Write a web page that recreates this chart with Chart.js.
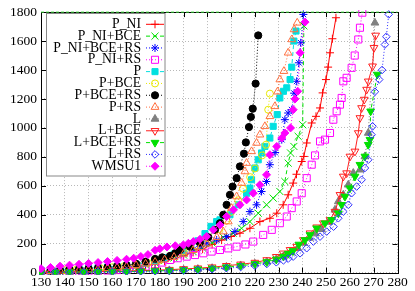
<!DOCTYPE html>
<html>
<head>
<meta charset="utf-8">
<script src="https://cdn.jsdelivr.net/npm/chart.js@4.4.1/dist/chart.umd.min.js"></script>
<style>
html,body{margin:0;padding:0;background:#fff}
#chart{display:block}
</style>
</head>
<body>
<canvas id="chart" width="415" height="291"></canvas>
<script>
// axis ranges
const xRange = [130, 280];
const yRange = [0, 1800];
const timeout = [[130, 1800], [280, 1800]];

const names = ['P_NI','P_NI+BCE','P_NI+BCE+RS','P_NI+RS','P','P+BCE','P+BCE+RS','P+RS','L','L+BCE','L+BCE+RS','L+RS','WMSU1'];

// [solved instances, time]
const pNI = [[130,3],[134,4],[138,5],[142,7],[146,9],[150,12],[154,15],[158,18],[162,22],[166,29],[170,38],[174,48],[178,62],[182,78],[186,96],[190,118],[194,140],[198,163],[202,195],[206,225],[210,250],[213.7,273],[217.9,307],[222.1,353],[226.3,376],[229.2,411],[231.9,469],[234,538],[236.1,619],[237.5,680],[239.7,768],[240.6,803],[241.8,896],[243.9,1034],[245.7,1080],[247.4,1138],[248.5,1242],[249.9,1334],[250.8,1420],[251.6,1519],[252.6,1616],[254.1,1761]];
const pNIBCE = [[130,3],[134,4],[138,5],[142,7],[146,10],[150,13],[154,16],[158,20],[162,25],[166,32],[170,42],[174,54],[178,68],[182,84],[186,102],[190,122],[194,145],[198,170],[202,205],[206.7,245],[210.9,273],[214.4,307],[217.9,353],[221.4,411],[224.9,469],[227.7,515],[230.5,561],[232.6,630],[234,757],[235,827],[236.4,872],[238.2,942],[240.1,1022],[240.6,1705]];
const pNIBCERS = [[130,4],[134,5],[138,7],[142,9],[146,12],[150,15],[154,19],[158,23],[162,29],[166,37],[170,48],[174,60],[178,76],[182,95],[186,115],[190,138],[194,160],[197,182],[199.7,204],[203.9,226],[208.1,249],[211.6,284],[215.1,353],[217.9,422],[220.7,469],[222.8,561],[224.9,630],[226.3,746],[228.5,830],[231.3,919],[232.6,1057],[234,1103],[235.5,1126],[236.5,1240],[237.6,1322],[238.5,1450],[239.3,1588],[240.4,1784]];
const pNIRS = [[130,2],[134,3],[138,4],[142,5],[146,7],[150,9],[154,11],[158,14],[162,18],[166,24],[170,32],[174,42],[178,55],[181,70],[184.3,88],[187.5,100],[191.3,111],[194.8,122],[198.3,134],[201.8,146],[205.3,157],[208.8,168],[212.3,180],[216,195],[219.3,215],[223.5,261],[227.1,296],[230.5,342],[233.4,388],[235.5,446],[237.6,492],[239.7,549],[241.8,653],[243.9,746],[245.3,810],[247.4,907],[249.5,919],[251.6,965],[253,1057],[254.4,1115],[255.8,1161],[256.5,1207],[257.2,1322],[258.6,1346],[260.7,1415],[262,1500],[263.5,1611],[264.2,1692],[265.2,1796]];
const p = [[130,18],[134,20],[138,22],[142,25],[146,28],[150,31],[154,35],[158,39],[162,44],[166,50],[170,57],[174,68],[178,84],[182,104],[186,128],[190,155],[193,185],[196,220],[199,270],[201.5,320],[203.9,353],[205.3,365],[209.5,400],[213,469],[216.5,549],[217.9,584],[218.6,642],[220,723],[221.4,780],[222.8,827],[224.2,872],[226.3,930],[227.7,1011],[229.4,1092],[230.5,1207],[232,1253],[233.4,1277],[234.8,1334],[235.5,1420],[236.4,1600],[237.3,1669]];
const pBCE = [[130,10],[135,14],[140,18],[145,22],[150,27],[155,32],[160,38],[165,45],[170,54],[175,68],[180,88],[185,115],[190,148],[195,190],[200,240],[205,300],[208,360],[210,420],[213,500],[215,580],[218,660],[220,720],[223,810],[224.7,884],[225.6,1126],[226.3,1237]];
const pBCERS = [[130,10],[134,13],[138,17],[142,21],[146,25],[150,29],[154,33],[158,38],[162,44],[166,52],[170,62],[174,76],[178,95],[181,106],[184.3,116],[186.5,135],[188.5,157],[192.7,180],[196.9,208],[200.4,245],[203.2,296],[205.3,342],[206.7,400],[208.1,469],[209.5,538],[210.6,595],[212.3,653],[213.7,734],[215.4,822],[216.2,900],[217.5,1006],[218.3,1076],[219.1,1133],[220.3,1306],[221.4,1639]];
const pRS = [[130,8],[134,10],[138,13],[142,16],[146,19],[150,23],[154,27],[158,31],[162,36],[166,43],[170,52],[174,62],[178,74],[182,90],[186,108],[190,130],[194,155],[197,176],[200,200],[204,245],[206.7,284],[208.8,353],[210.2,446],[212.3,526],[214.4,619],[215.8,699],[216.5,757],[218.6,838],[220.7,896],[222.1,953],[224.2,1011],[226.3,1080],[228.4,1149],[229.5,1250],[230.5,1334],[232.2,1392],[234,1519],[235.5,1611],[236.5,1680],[237.8,1726]];
const l = [[130,2],[136,3],[142,4],[148,5],[154,6],[160,7],[166,9],[172,11],[178,13],[184,16],[190,20],[196,25],[202,31],[208,40],[214,50],[220,62],[225,76],[229,92],[232,112],[235,140],[238,170],[240.5,205],[243,240],[245.5,270],[248,300],[251,350],[253.7,434],[255.1,492],[257.2,538],[259.3,607],[261.4,688],[264.2,711],[266.3,803],[267.7,965],[270.5,1726]];
const lBCE = [[130,3],[136,4],[142,5],[148,6],[154,8],[160,10],[166,12],[172,14],[178,17],[184,21],[190,26],[196,31],[202,38],[208,48],[214,58],[220,70],[225,88],[229,110],[231.9,134],[234.8,158],[237.6,180],[240.4,226],[243.2,273],[246,314],[248.8,342],[251.6,365],[253.7,422],[255.8,538],[257.2,665],[258.6,688],[260,803],[262.1,838],[263.5,965],[264.2,1069],[264.9,1138],[266,1196],[267,1265],[267.7,1322],[269.5,1426],[270.1,1554],[270.8,1639]];
const lBCERS = [[130,2],[136,3],[142,4],[148,5],[154,6],[160,7],[166,8],[172,10],[178,12],[184,15],[190,19],[196,24],[202,30],[208,38],[214,48],[220,60],[225,74],[229,92],[232,112],[234,132],[236,150],[238.5,195],[241.1,226],[243.2,261],[246,307],[249.5,342],[252.3,365],[255.1,411],[256.5,469],[257.9,526],[260,584],[262.1,665],[264.2,746],[266.3,803],[267.7,884],[268.4,919],[268.7,1115],[271.5,1369]];
const lRS = [[130,1],[136,2],[142,3],[148,4],[154,5],[160,6],[166,7],[172,8],[178,10],[184,12],[190,15],[196,19],[202,24],[208,31],[214,39],[220,48],[225,60],[229,72],[232,85],[234,97],[236.1,111],[239,134],[241.8,169],[244.6,215],[247.4,249],[250.2,284],[253.1,318],[255.1,376],[257.2,422],[259.3,469],[260.7,549],[262.8,595],[264.9,642],[266.3,723],[267.7,780],[269.1,953],[269.5,1011],[270.5,1250],[272.3,1334],[273.5,1400],[274.7,1576],[275.3,1630],[276.3,1784]];
const wmsu1 = [[130,28],[134,36],[138,45],[142,52],[146,58],[150,64],[154,70],[158,77],[162,85],[166,93],[169,100],[172,112],[175,125],[178,155],[180,165],[183,178],[186.5,186],[189.9,192],[192,203],[194.1,215],[196.9,231],[199.7,250],[202.5,296],[205.3,330],[208.1,388],[211,434],[213.7,469],[216.5,503],[219.3,549],[222.1,607],[224.9,676],[226.3,815],[229.2,872],[231.3,930],[232.6,965],[235,1000],[236.1,1126],[236.9,1200],[238,1253],[239,1519],[241.1,1731]];

const series = [pNI, pNIBCE, pNIBCERS, pNIRS, p, pBCE, pBCERS, pRS, l, lBCE, lBCERS, lRS, wmsu1];

// marker look per series (gnuplot style)
const colors = ['#ff0000','#00e000','#0000ff','#ff00ff','#00e0e0','#e8e800','#000000','#ff7040','#808080','#ff2020','#00e000','#3030ff','#ff00ff'];
const shapes = ['cross','crossRot','star','rect','rect','circle','circle','triangle','triangle','triangle','triangle','rectRot','rectRot'];
const filled = [false,false,false,false,true,false,true,false,true,false,true,false,true];
const radii = [4,5,4,5,4.3,3.5,3.6,4.5,4.5,4.5,4.5,3.8,4];
const rotations = [0,0,0,0,0,0,0,0,0,180,180,0,0];
const dashes = [[],[4,3],[1,2],[1,2],[4,3],[1,2],[1,2],[1,2],[1,2],[],[4,3],[1,2],[1,2]];

const serif = 'Liberation Serif';

const datasets = series.map((pts, i) => ({
  label: names[i],
  data: pts.map(([x, y]) => ({x, y})),
  showLine: true,
  borderColor: colors[i],
  borderWidth: 1,
  borderDash: dashes[i],
  pointStyle: shapes[i],
  pointRadius: radii[i],
  pointRotation: rotations[i],
  pointBorderColor: colors[i],
  pointBackgroundColor: filled[i] ? colors[i] : 'rgba(0,0,0,0)',
  pointBorderWidth: 1,
  clip: 2,
  order: names.length - i
}));

datasets.push({
  label: 'timeout',
  data: timeout.map(([x, y]) => ({x, y})),
  showLine: true,
  borderColor: '#40e040',
  borderWidth: 1,
  borderDash: [3, 2],
  pointRadius: 0,
  clip: 2,
  order: 0
});

// black frame with inward tics, like gnuplot
const framePlugin = {
  id: 'frame',
  beforeDatasetsDraw(chart) {
    const {ctx, chartArea: a, scales} = chart;
    ctx.save();
    ctx.strokeStyle = '#000';
    ctx.lineWidth = 1;
    ctx.beginPath();
    scales.x.ticks.forEach(t => {
      const px = Math.round(scales.x.getPixelForValue(t.value)) + 0.5;
      ctx.moveTo(px, a.bottom); ctx.lineTo(px, a.bottom - 5);
      ctx.moveTo(px, a.top); ctx.lineTo(px, a.top + 5);
    });
    scales.y.ticks.forEach(t => {
      const py = Math.round(scales.y.getPixelForValue(t.value)) + 0.5;
      ctx.moveTo(a.left, py); ctx.lineTo(a.left + 5, py);
      ctx.moveTo(a.right, py); ctx.lineTo(a.right - 5, py);
    });
    ctx.stroke();
    ctx.strokeRect(Math.round(a.left) + 0.5, Math.round(a.top) + 0.5, Math.round(a.right - a.left), Math.round(a.bottom - a.top));
    ctx.restore();
  }
};

// key box in the upper left, text right-aligned, sample on the right
const keyPlugin = {
  id: 'key',
  afterDatasetsDraw(chart) {
    const {ctx} = chart;
    const box = {x: 46.5, y: 13.5, w: 118.5, h: 162.5};
    ctx.save();
    ctx.fillStyle = '#fff';
    ctx.fillRect(box.x, box.y, box.w, box.h);
    ctx.strokeStyle = '#888';
    ctx.lineWidth = 1;
    ctx.strokeRect(box.x, box.y, box.w, box.h);
    ctx.font = '13.7px "' + serif + '"';
    ctx.textAlign = 'right';
    ctx.textBaseline = 'middle';
    names.forEach((name, i) => {
      const y = 24.3 + i * 11.83;
      ctx.fillStyle = '#000';
      ctx.fillText(name, 141, y);
      ctx.strokeStyle = colors[i];
      ctx.setLineDash(dashes[i]);
      ctx.beginPath();
      ctx.moveTo(146, y); ctx.lineTo(164, y);
      ctx.stroke();
      ctx.setLineDash([]);
      ctx.fillStyle = filled[i] ? colors[i] : 'rgba(0,0,0,0)';
      Chart.helpers.drawPoint(ctx, {pointStyle: shapes[i], radius: radii[i], rotation: rotations[i], borderWidth: 1}, 155, y);
    });
    ctx.restore();
  }
};

new Chart(document.getElementById('chart'), {
  type: 'scatter',
  data: {datasets},
  plugins: [framePlugin, keyPlugin],
  options: {
    responsive: false,
    devicePixelRatio: 1,
    animation: false,
    layout: {padding: {left: 0, top: 12, right: 17.5, bottom: 0}},
    plugins: {legend: {display: false}, tooltip: {enabled: false}},
    scales: {
      x: {
        type: 'linear', min: xRange[0], max: xRange[1],
        ticks: {stepSize: 10, autoSkip: false, maxRotation: 0, color: '#000', padding: 2, font: {family: serif, size: 13.5}, callback: v => String(v)},
        grid: {color: '#b8b8b8', drawTicks: false},
        border: {display: false, dash: [1, 2]},
        afterFit(s) { s.height = 18.3; }
      },
      y: {
        min: yRange[0], max: yRange[1],
        ticks: {stepSize: 200, color: '#000', padding: 4, font: {family: serif, size: 13.5}, callback: v => String(v)},
        grid: {color: '#b8b8b8', drawTicks: false},
        border: {display: false, dash: [1, 2]},
        afterFit(s) { s.width = 41; }
      }
    }
  }
});
</script>
</body>
</html>
